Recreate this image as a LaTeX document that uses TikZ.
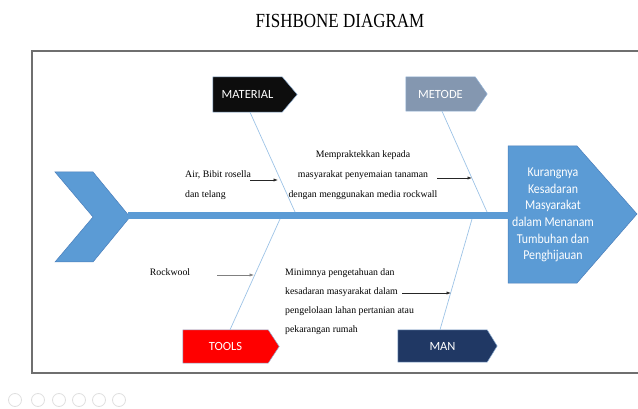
\documentclass[tikz,border=0pt]{standalone}
\usepackage{fontspec}
\setmainfont{Liberation Serif}
\newfontfamily\calibri{Carlito}
\usetikzlibrary{arrows.meta,backgrounds,calc}

\definecolor{fishblue}{HTML}{5B9BD5}
\definecolor{fishedge}{HTML}{4A7EBB}
\definecolor{bonecol}{HTML}{9DC3E6}
\definecolor{metodecol}{HTML}{8497B0}
\definecolor{mancol}{HTML}{203864}
\definecolor{framecol}{HTML}{6F6F6F}

\tikzset{
  causebox/.style={inner sep=0, text=white, font=\calibri\fontsize{12.5}{14}\selectfont},
  bone/.style={bonecol, line width=0.7pt},
  note/.style={inner sep=0, font=\fontsize{9.8}{20}\selectfont},
  cue/.style={-{Latex[length=4.5pt,width=3.2pt]}, black!85, line width=0.6pt},
}

% arrow-shaped label drawn from the node's corners
\newcommand{\tagshape}[3]{%
  \filldraw[fill=#3, draw=fishedge!60, line width=0.5pt] (#1.north west) -- (#1.north east)
    -- ($(#1.east)+(#2,0)$) -- (#1.south east) -- (#1.south west) -- cycle;}

\begin{document}
\begin{tikzpicture}[x=1pt,y=-1pt]
\useasboundingbox (0,0) rectangle (638,409);

% title and frame
\node[font=\fontsize{20}{22}\selectfont, xscale=0.85] (title) at (340,21) {FISHBONE DIAGRAM};
\draw[framecol, line width=1.3pt] (640,51) -- (32,51) -- (32,373) -- (640,373);

% the four causes
\node[causebox, minimum width=69, minimum height=35] (material) at (247.5,94.5) {MATERIAL};
\node[causebox, minimum width=69, minimum height=34] (metode) at (440.5,94) {METODE};
\node[causebox, minimum width=85, minimum height=33] (tools) at (225.5,346.5) {TOOLS};
\node[causebox, minimum width=89, minimum height=32] (man) at (442.5,346) {MAN};

% effect (head of the fish)
\node[font=\calibri\fontsize{13.5}{16.6}\selectfont, xscale=0.88, text=white, align=center, inner sep=0] (effect) at (553,215)
  {Kurangnya\\Kesadaran\\Masyarakat\\dalam Menanam\\Tumbuhan dan\\Penghijauan};
\coordinate (tail) at (128,215.5);

\begin{scope}[on background layer]
  \tagshape{material}{15}{black!95}
  \tagshape{metode}{12}{metodecol}
  \tagshape{tools}{11}{red}
  \tagshape{man}{10}{mancol}
  % head and tail
  \filldraw[fill=fishblue, draw=fishedge, line width=0.5pt] (508,146) -- (577,146) -- (637,214) -- (577,283) -- (508,283) -- cycle;
  \filldraw[fill=fishblue, draw=fishedge, line width=0.5pt] (55,172) -- (93,172) -- (130,217) -- (93,262) -- (55,262) -- (93,217) -- cycle;
  % spine
  \draw[draw=fishedge, line width=0.4pt, double=fishblue, double distance=6.6pt] (tail) -- (tail -| effect.west);
\end{scope}

% bones
\coordinate (j1) at (295,212);
\coordinate (j2) at (487,212);
\coordinate (j3) at (280,219);
\coordinate (j4) at (472,219);
\draw[bone] ([xshift=2.5pt]material.south) -- (j1);
\draw[bone] ([xshift=1.5pt]metode.south) -- (j2);
\draw[bone] ([xshift=4.5pt]tools.north) -- (j3);
\draw[bone] ([xshift=-2.5pt]man.north) -- (j4);

% sub causes
\node[note, align=left, anchor=west] (air) at (185,185) {Air, Bibit rosella\\dan telang};
\node[note, align=center] (praktek) at (363,175) {Mempraktekkan kepada\\masyarakat penyemaian tanaman\\dengan menggunakan media rockwall};
\node[note] (rockwool) at (170,272) {Rockwool};
\node[note, align=left, anchor=west, font=\fontsize{9.8}{19}\selectfont] (minim) at (285,301.5)
  {Minimnya pengetahuan dan\\kesadaran masyarakat dalam\\pengelolaan lahan pertanian atau\\pekarangan rumah};

\coordinate (a1) at (250,180); \coordinate (a2) at (278,180);
\coordinate (b1) at (437,178); \coordinate (b2) at (472,178);
\coordinate (c1) at (217,275); \coordinate (c2) at (254,275);
\coordinate (d1) at (402,293); \coordinate (d2) at (451,293);
\draw[cue] (a1) -- (a2);
\draw[cue] (b1) -- (b2);
\draw[cue, black!50] (c1) -- (c2);
\draw[cue] (d1) -- (d2);

% slide controls
\foreach \cx in {15,38,59,79,99,119}
  \draw[gray!25, line width=0.8pt] (\cx,400) circle [radius=6.5pt];
\end{tikzpicture}
\end{document}
